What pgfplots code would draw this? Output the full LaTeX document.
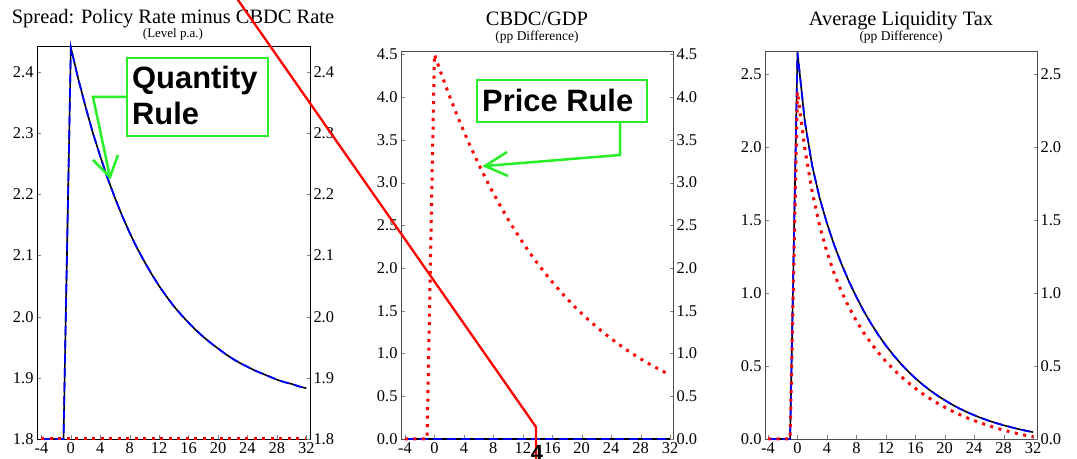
\documentclass[border=0pt]{standalone}
\usepackage{fontspec}
\setmainfont{Liberation Serif}
\newfontfamily\arialf{Liberation Sans}
\usepackage{pgfplots}
\usepackage{pgfplotstable}
\pgfplotsset{compat=1.18}
\definecolor{anngreen}{RGB}{40,240,40}
\pgfplotstableread{
t s c lb lr
-4 1.8 0 0 0
-3 1.8 0 0 0
-2 1.8 0 0 0
-1 1.8 0 0 0
0 2.44 4.5 2.65 2.38
1 2.389 4.255 2.176 1.989
2 2.343 4.023 1.873 1.694
3 2.300 3.804 1.654 1.464
4 2.262 3.597 1.479 1.282
5 2.226 3.401 1.328 1.133
6 2.194 3.216 1.197 1.008
7 2.164 3.041 1.079 0.902
8 2.137 2.875 0.974 0.810
9 2.112 2.719 0.877 0.728
10 2.090 2.570 0.791 0.656
11 2.069 2.431 0.712 0.591
12 2.050 2.298 0.641 0.532
13 2.033 2.173 0.577 0.480
14 2.017 2.055 0.518 0.431
15 2.003 1.943 0.465 0.388
16 1.990 1.837 0.417 0.348
17 1.978 1.737 0.373 0.310
18 1.967 1.642 0.334 0.277
19 1.957 1.553 0.298 0.246
20 1.948 1.468 0.266 0.218
21 1.939 1.388 0.236 0.192
22 1.931 1.313 0.209 0.168
23 1.924 1.241 0.185 0.146
24 1.918 1.174 0.163 0.126
25 1.912 1.110 0.143 0.108
26 1.907 1.049 0.125 0.091
27 1.902 0.992 0.109 0.075
28 1.897 0.938 0.094 0.061
29 1.893 0.887 0.081 0.048
30 1.890 0.839 0.068 0.036
31 1.886 0.793 0.057 0.025
32 1.883 0.750 0.047 0.015
}\irf
\begin{document}
\begin{tikzpicture}[x=1bp,y=1bp]
\useasboundingbox (0,0) rectangle (1077,459);
\pgfplotsset{
  panel/.style={scale only axis, clip=false, anchor=south west,
    tick align=inside, major tick length=3.5bp,
    xtick={-4,0,...,32},
    ticklabel style={font=\fontsize{16.5}{16.5}\selectfont},
    /pgf/number format/assume math mode=true,
    yticklabel style={/pgf/number format/.cd, fixed, fixed zerofill, precision=1},
    ytick pos=both, yticklabel pos=left, xtick pos=bottom},
  rpanel/.style={scale only axis, clip=false, anchor=south west,
    tick align=inside, major tick length=3.5bp,
    hide x axis, axis y line*=right, yticklabel pos=right,
    ticklabel style={font=\fontsize{16.5}{16.5}\selectfont},
    /pgf/number format/assume math mode=true,
    yticklabel style={/pgf/number format/.cd, fixed, fixed zerofill, precision=1}},
  blk/.style={black, line width=1.6bp},
  blu/.style={color={rgb,255:red,0;green,0;blue,255}, line width=1.8bp, dash pattern=on 9bp off 5bp},
  rdot/.style={red, line width=3bp, dash pattern=on 3bp off 5.5bp}
}
% Panel 1
\begin{axis}[panel, at={(37bp,20bp)}, width=273bp, height=393bp,
  xmin=-4.6, xmax=32.5, ymin=1.8, ymax=2.4425,
  ytick={1.8,1.9,...,2.45}]
\addplot[blk] table[x=t,y=s]{\irf};
\addplot[blu] table[x=t,y=s]{\irf};
\addplot[rdot] coordinates {(-4,1.8) (32,1.8)};
\end{axis}
\begin{axis}[rpanel, at={(37bp,20bp)}, width=273bp, height=393bp,
  xmin=-4.6, xmax=32.5, ymin=1.8, ymax=2.4425,
  ytick={1.8,1.9,...,2.45}]
\addplot[draw=none] coordinates {(0,2)};
\end{axis}
% Panel 2
\begin{axis}[panel, at={(401bp,20bp)}, width=272bp, height=388bp,
  xmin=-4.54, xmax=32.4, ymin=0, ymax=4.54,
  axis line style={gray!60!black}, ytick={0,0.5,...,4.6}]
\addplot[blk] coordinates {(-4,0) (32,0)};
\addplot[blu] coordinates {(-4,0) (32,0)};
\addplot[rdot] table[x=t,y=c]{\irf};
\end{axis}
\begin{axis}[rpanel, at={(401bp,20bp)}, width=272bp, height=388bp,
  xmin=-4.54, xmax=32.4, ymin=0, ymax=4.54,
  axis line style={gray!60!black}, ytick={0,0.5,...,4.6}]
\addplot[draw=none] coordinates {(0,2)};
\end{axis}
% Panel 3
\begin{axis}[panel, at={(765bp,20bp)}, width=272bp, height=388bp,
  xmin=-4.41, xmax=32.54, ymin=0, ymax=2.66,
  axis line style={gray!60!black}, ytick={0,0.5,...,2.6}]
\addplot[blk] table[x=t,y=lb]{\irf};
\addplot[blu] table[x=t,y=lb]{\irf};
\addplot[rdot] table[x=t,y=lr]{\irf};
\end{axis}
\begin{axis}[rpanel, at={(765bp,20bp)}, width=272bp, height=388bp,
  xmin=-4.41, xmax=32.54, ymin=0, ymax=2.66,
  axis line style={gray!60!black}, ytick={0,0.5,...,2.6}]
\addplot[draw=none] coordinates {(0,1)};
\end{axis}
% Titles
\node[anchor=base, font=\fontsize{20.5}{20.5}\selectfont] at (173,435) {Spread: Policy Rate minus CBDC Rate};
\node[anchor=base, font=\fontsize{13}{13}\selectfont] at (173,421) {(Level p.a.)};
\node[anchor=base, font=\fontsize{20.5}{20.5}\selectfont] at (537,433) {CBDC/GDP};
\node[anchor=base, font=\fontsize{13.5}{13.5}\selectfont] at (537,418) {(pp Difference)};
\node[anchor=base, font=\fontsize{20.5}{20.5}\selectfont] at (901,433) {Average Liquidity Tax};
\node[anchor=base, font=\fontsize{13.5}{13.5}\selectfont] at (901,418) {(pp Difference)};
% Annotations
\filldraw[anngreen, fill=white, line width=2.5bp] (127,401) rectangle (268,323);
\node[anchor=base west, inner sep=0, font=\arialf\bfseries\fontsize{31}{31}\selectfont] at (132,370) {Quantity};
\node[anchor=base west, inner sep=0, font=\arialf\bfseries\fontsize{31}{31}\selectfont] at (132,334) {Rule};
\draw[anngreen, line width=2.5bp] (127,362) -- (93,362) -- (110,282);
\draw[anngreen, line width=2.5bp] (93,299) -- (110,282) -- (118,304);
\filldraw[anngreen, fill=white, line width=2.5bp] (477,379) rectangle (647,337);
\node[anchor=base west, inner sep=0, font=\arialf\bfseries\fontsize{31}{31}\selectfont] at (482,347) {Price Rule};
\draw[anngreen, line width=2.5bp] (620,337) -- (620,304) -- (485,293);
\draw[anngreen, line width=2.5bp] (507,307) -- (485,293) -- (508,283);
% stray red line
\draw[red, line width=2.3bp] (231,469) -- (536,32) -- (536,-10);
\node[font=\arialf\bfseries\fontsize{22}{22}\selectfont, inner sep=0] at (537,6) {4};
\end{tikzpicture}
\end{document}
